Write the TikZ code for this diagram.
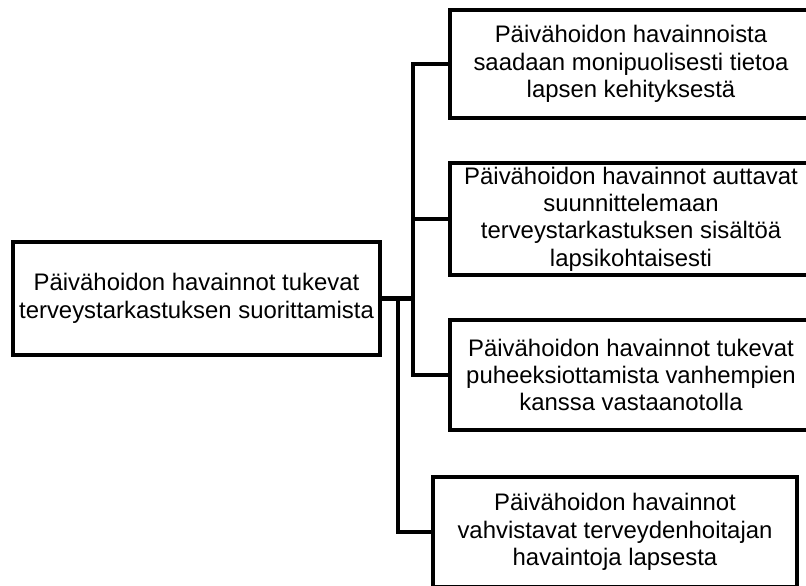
\documentclass[tikz,border=0pt]{standalone}
\usepackage{fontspec}
\setmainfont{Liberation Sans}
\usepackage{tikz}
\usetikzlibrary{positioning, calc}
\tikzset{
    box/.style={rectangle, draw, line width=3.5pt, fill=white, align=center, inner sep=0pt, font=\fontsize{17}{19.5}\selectfont},
    link/.style={line width=3.5pt}
}

\begin{document}
\begin{tikzpicture}[x=0.025cm, y=-0.025cm]
    \useasboundingbox (0,0) rectangle (806,585);
    \clip (0,0) rectangle (806,585);
    \node[box, minimum width=367*0.025cm, minimum height=113*0.025cm] (root) at (196.5,298.5) {Päivähoidon havainnot tukevat\\terveystarkastuksen suorittamista};
    \node[box, minimum width=362*0.025cm, minimum height=108*0.025cm] (obs1) at (631,64) {Päivähoidon havainnoista\\saadaan monipuolisesti tietoa\\lapsen kehityksestä};
    \node[box, minimum width=362*0.025cm, minimum height=112*0.025cm] (obs2) at (631,219) {Päivähoidon havainnot auttavat\\suunnittelemaan\\terveystarkastuksen sisältöä\\lapsikohtaisesti};
    \node[box, minimum width=362*0.025cm, minimum height=110*0.025cm] (obs3) at (631,375) {Päivähoidon havainnot tukevat\\puheeksiottamista vanhempien\\kanssa vastaanotolla};
    \node[box, minimum width=364*0.025cm, minimum height=110*0.025cm] (obs4) at (615,532) {Päivähoidon havainnot\\vahvistavat terveydenhoitajan\\havaintoja lapsesta};
    \coordinate (busA) at (413,298.5);
    \coordinate (busB) at (398,298.5);
    \draw[link] (root.east) -- (busA) |- (obs1.west);
    \draw[link] (busA) |- (obs2.west);
    \draw[link] (busA) |- (obs3.west);
    \draw[link] (busB) |- (obs4.west);
\end{tikzpicture}
\end{document}
